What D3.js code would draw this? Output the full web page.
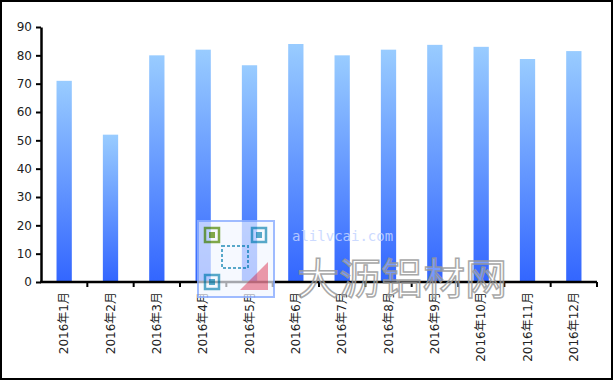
<!DOCTYPE html>
<html>
<head>
<meta charset="utf-8">
<script src="https://cdn.jsdelivr.net/npm/d3@7"></script>
<style>
  body { margin: 0; background: #fff; }
  svg { display: block; }
  .axis text { font-family: "DejaVu Sans", "Noto Sans CJK SC", sans-serif; font-size: 12px; fill: #222; }
  .axis path, .axis line { stroke: #000; }
</style>
</head>
<body>
<div id="chart"></div>
<script>
// monthly values, 2016
let months = ["2016年1月", "2016年2月", "2016年3月", "2016年4月", "2016年5月", "2016年6月",
              "2016年7月", "2016年8月", "2016年9月", "2016年10月", "2016年11月", "2016年12月"];
let values = [71, 52, 80, 82, 76.5, 84, 80, 82, 83.7, 83, 78.7, 81.5];
let yTicks = [0, 10, 20, 30, 40, 50, 60, 70, 80, 90];

let W = 616, H = 383;
let margin = {top: 27, right: 19, bottom: 101, left: 41},
    width = W - margin.left - margin.right,
    height = H - margin.top - margin.bottom;

let svg = d3.select("#chart").append("svg")
    .attr("width", W)
    .attr("height", H);

// outer frame
svg.append("rect")
    .attr("x", 1).attr("y", 1)
    .attr("width", 611).attr("height", 378)
    .attr("fill", "#fff")
    .attr("stroke", "#000")
    .attr("stroke-width", 2);

let defs = svg.append("defs");
let grad = defs.append("linearGradient")
    .attr("id", "barGrad")
    .attr("x1", 0).attr("y1", 0).attr("x2", 0).attr("y2", 1);
grad.append("stop").attr("offset", "0%").attr("stop-color", "#99ccff");
grad.append("stop").attr("offset", "100%").attr("stop-color", "#3366ff");

let g = svg.append("g")
    .attr("transform", "translate(" + margin.left + "," + margin.top + ")");

let x = d3.scaleBand()
    .domain(months)
    .range([0, width])
    .paddingInner(0.67)
    .paddingOuter(0.335);

let y = d3.scaleLinear()
    .domain([0, 90])
    .range([height, 0]);

g.selectAll(".bar")
    .data(values)
    .enter().append("rect")
    .attr("class", "bar")
    .attr("x", function(d, i) { return x(months[i]); })
    .attr("width", x.bandwidth())
    .attr("y", function(d) { return y(d); })
    .attr("height", function(d) { return y(0) - y(d) - 1; })
    .attr("fill", "url(#barGrad)");

// y axis
let yAxis = g.append("g")
    .attr("class", "axis")
    .call(d3.axisLeft(y).tickValues(yTicks).tickSize(5).tickSizeOuter(0).tickPadding(4));
yAxis.select(".domain").attr("stroke-width", 2.5);
yAxis.selectAll(".tick line").attr("stroke-width", 2);

// x axis: ticks on category boundaries, labels rotated
let xAxisG = g.append("g")
    .attr("class", "axis")
    .attr("transform", "translate(0," + height + ")");
xAxisG.append("line")
    .attr("x1", -1).attr("x2", width)
    .attr("stroke", "#000").attr("stroke-width", 2.5);
let step = x.step();
xAxisG.selectAll(".sep")
    .data(d3.range(1, months.length + 1))
    .enter().append("line")
    .attr("class", "sep")
    .attr("x1", function(d) { return d * step; })
    .attr("x2", function(d) { return d * step; })
    .attr("y1", 0).attr("y2", 5)
    .attr("stroke", "#000").attr("stroke-width", 2);
xAxisG.selectAll(".lbl")
    .data(months)
    .enter().append("text")
    .attr("class", "lbl")
    .attr("transform", function(d) { return "translate(" + (x(d) + x.bandwidth() / 2) + ",10) rotate(-90)"; })
    .attr("dy", "0.35em")
    .style("text-anchor", "end")
    .text(function(d) { return d; });

// watermark (QR-like badge + site name)
let wm = svg.append("g").attr("opacity", 0.85);
wm.append("rect")
    .attr("x", 198).attr("y", 221).attr("width", 76).attr("height", 76)
    .attr("fill", "#f2f6ff").attr("fill-opacity", 0.8)
    .attr("stroke", "#8fb0ff").attr("stroke-width", 2);
let finders = [[205, 228, "#6a9a2a"], [252, 228, "#3a9ac0"], [205, 275, "#3a9ac0"]];
finders.forEach(function(f) {
    wm.append("rect").attr("x", f[0]).attr("y", f[1]).attr("width", 14).attr("height", 14)
        .attr("fill", "none").attr("stroke", f[2]).attr("stroke-width", 2.5);
    wm.append("rect").attr("x", f[0] + 4).attr("y", f[1] + 4).attr("width", 6).attr("height", 6)
        .attr("fill", f[2]);
});
wm.append("rect").attr("x", 222).attr("y", 246).attr("width", 26).attr("height", 22)
    .attr("fill", "none").attr("stroke", "#3a9ac0").attr("stroke-width", 2).attr("stroke-dasharray", "3 2");
wm.append("path").attr("d", "M240,290 L268,262 L268,290 Z")
    .attr("fill", "#e0607a").attr("fill-opacity", 0.75);
wm.append("text")
    .attr("x", 292).attr("y", 241)
    .attr("font-family", "DejaVu Sans Mono, monospace")
    .attr("font-size", 14)
    .attr("fill", "#c4d4ff")
    .text("alilvcai.com");
wm.append("text")
    .attr("x", 297).attr("y", 294)
    .attr("font-family", "Noto Sans CJK SC, sans-serif")
    .attr("font-size", 42)
    .attr("fill", "#ffffff").attr("fill-opacity", 0.4)
    .attr("stroke", "#9a9a9a").attr("stroke-width", 1.5)
    .text("大沥铝材网");
</script>
</body>
</html>
